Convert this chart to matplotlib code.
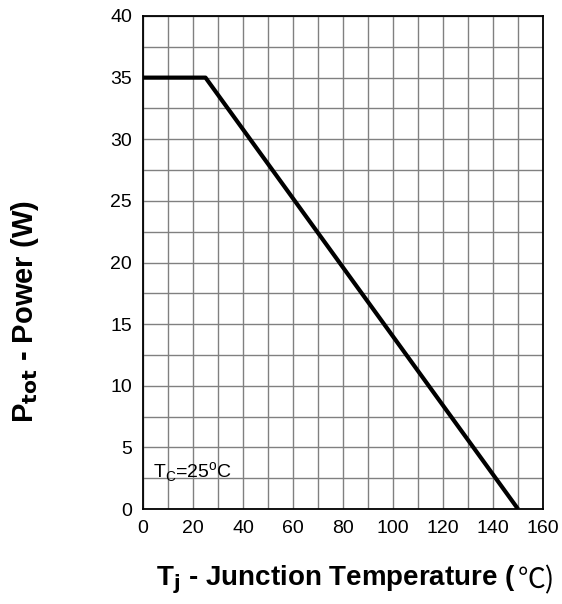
import matplotlib.pyplot as plt
import numpy as np

plt.rcParams['font.family'] = ['Liberation Sans', 'DejaVu Sans']

# derating curve
temp = [0, 25, 150]
power = [35, 35, 0]

x_ticks = [0, 20, 40, 60, 80, 100, 120, 140, 160]
y_ticks = [0, 5, 10, 15, 20, 25, 30, 35, 40]

fig = plt.figure(figsize=(5.62, 6.04), dpi=100)
ax = fig.add_axes([143 / 562, 1 - 509 / 604, 400 / 562, 493 / 604])

ax.plot(temp, power, color='black', linewidth=3.0, solid_capstyle='butt', zorder=3)

ax.set_xlim(0, 160)
ax.set_ylim(0, 40)
ax.set_xticks(x_ticks)
ax.set_yticks(y_ticks)
ax.set_xticks(np.arange(0, 161, 10), minor=True)
ax.set_yticks(np.arange(0, 40.1, 2.5), minor=True)
ax.grid(True, which='both', color='#808080', linewidth=1.0)
ax.tick_params(which='both', length=0, labelsize=14, pad=8)
for s in ax.spines.values():
    s.set_linewidth(1.3)
    s.set_color('black')
    s.set_zorder(4)

ax.text(4, 3.0, r'T$_\mathregular{C}$=25$^\mathregular{o}$C', fontsize=14,
        va='center', ha='left')

xl = fig.text(156 / 562, 1 - 580 / 604,
              r'T$_\mathbf{j}$ - Junction Temperature (',
              fontsize=20, fontweight='bold', ha='left', va='center')
fig.canvas.draw()
bb = xl.get_window_extent().transformed(fig.transFigure.inverted())
fig.text(bb.x1 + 2 / 562, 1 - 580 / 604, '℃)', fontsize=20,
         family=['Noto Sans CJK SC', 'DejaVu Sans'], ha='left', va='center')

fig.text(25 / 562, 1 - 312 / 604, r'P$_\mathbf{tot}$ - Power (W)',
         fontsize=21, fontweight='bold', rotation=90, ha='center', va='center')

fig.savefig('out.png', dpi=100)
